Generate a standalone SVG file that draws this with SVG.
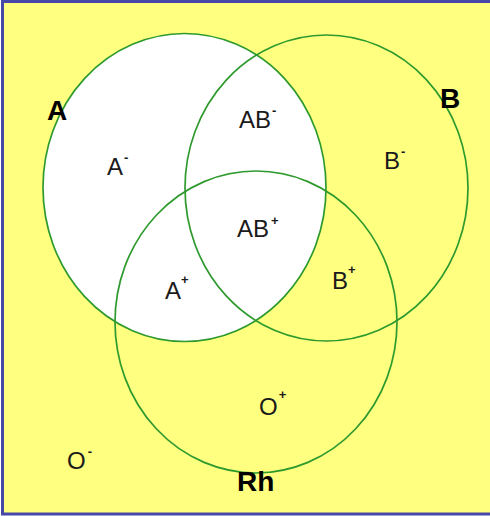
<svg xmlns="http://www.w3.org/2000/svg" width="490" height="516" viewBox="0 0 490 516">
<style>
.ring{fill:none;stroke:#2e9a2e;stroke-width:1.7}
.big{font-family:"Liberation Sans",Arial,sans-serif;font-weight:bold;font-size:28px;fill:#000}
.lbl{font-family:"Liberation Sans",Arial,sans-serif;font-size:24px;fill:#1a1a1a}
.sup{font-size:13px;font-weight:bold}
</style>
<rect x="0" y="0" width="490" height="516" fill="#ffffff"/>
<rect x="2.5" y="1.5" width="492" height="512.5" fill="#ffff80" stroke="#4848a8" stroke-width="3"/>
<g id="fillA"><ellipse cx="184.5" cy="187.5" rx="141.5" ry="154" fill="#ffffff"/></g>
<g id="connectors">
<ellipse id="ringA" class="ring" cx="184.5" cy="187.5" rx="141.5" ry="154"/>
<ellipse id="ringB" class="ring" cx="326.5" cy="188" rx="141.5" ry="153"/>
<ellipse id="ringRh" class="ring" cx="256" cy="322" rx="141" ry="151"/>
</g>
<g id="setA"><text class="big" x="47" y="120">A</text></g>
<g id="setB"><text class="big" x="440" y="108">B</text></g>
<g id="setRh"><text class="big" x="237" y="491">Rh</text></g>
<g id="Aminus"><text class="lbl" x="107" y="175">A<tspan class="sup" dx="1" dy="-13">-</tspan></text></g>
<g id="ABminus"><text class="lbl" x="239" y="128">AB<tspan class="sup" dx="1" dy="-13">-</tspan></text></g>
<g id="Bminus"><text class="lbl" x="384" y="169">B<tspan class="sup" dx="1" dy="-13">-</tspan></text></g>
<g id="ABplus"><text class="lbl" x="237" y="237">AB<tspan class="sup" dx="2" dy="-12">+</tspan></text></g>
<g id="Aplus"><text class="lbl" x="165" y="299">A<tspan class="sup" dx="0" dy="-15">+</tspan></text></g>
<g id="Bplus"><text class="lbl" x="332" y="289">B<tspan class="sup" dx="0" dy="-15">+</tspan></text></g>
<g id="Oplus"><text class="lbl" x="259" y="415">O<tspan class="sup" dx="1" dy="-16">+</tspan></text></g>
<g id="Ominus"><text class="lbl" x="67" y="469">O<tspan class="sup" dx="2" dy="-13">-</tspan></text></g>
</svg>
